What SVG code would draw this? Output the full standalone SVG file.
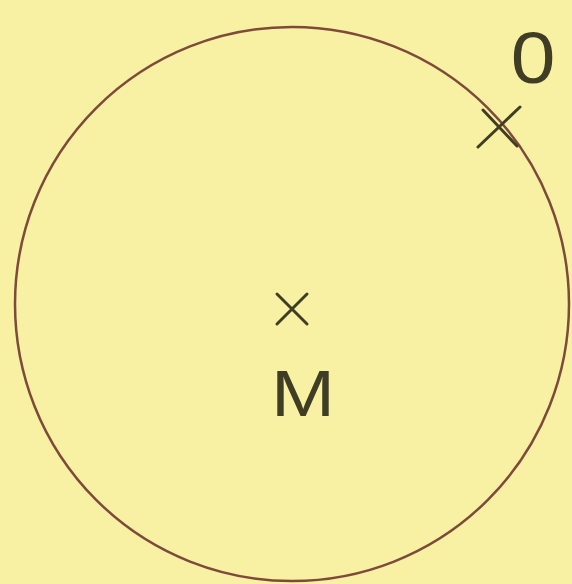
<svg xmlns="http://www.w3.org/2000/svg" width="572" height="584" viewBox="0 0 572 584">
<style>
.mark{stroke:#3f3d24;stroke-width:3;stroke-linecap:round;fill:none}
.lbl{font-family:"Liberation Sans","DejaVu Sans",sans-serif;fill:#3f3d24}
</style>
<rect width="572" height="584" fill="#f8f0a2"/>
<g id="circle">
<circle cx="292" cy="304" r="277" fill="none" stroke="#7e4a3a" stroke-width="2.5"/>
</g>
<g id="M">
<path class="mark" d="M277 294 L307 324 M307 294 L277 324"/>
<text class="lbl" transform="translate(303 416) scale(1.2 1)" font-size="64" text-anchor="middle">M</text>
</g>
<g id="O">
<path class="mark" d="M478 147 L520 107 M483 110 L517 146"/>
<text class="lbl" transform="translate(533 83) scale(1.1 1)" font-size="73" text-anchor="middle">0</text>
</g>
</svg>
